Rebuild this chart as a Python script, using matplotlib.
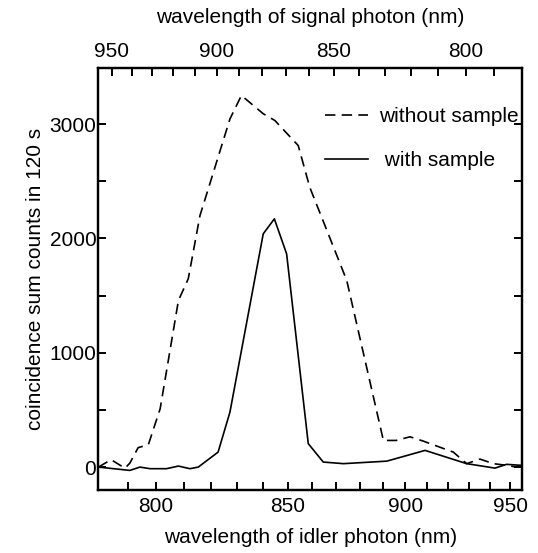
import numpy as np
import matplotlib
matplotlib.use('Agg')
import matplotlib.pyplot as plt
from matplotlib.ticker import FixedLocator, NullFormatter

plt.rcParams['font.family'] = ['Liberation Sans', 'DejaVu Sans']
plt.rcParams['lines.scale_dashes'] = False

PUMP = 429.7  # pump wavelength (nm), sets the signal axis on top

# coincidence counts without sample (dashed)
idler_without = [780, 784.3, 789.1, 790.8, 793.7, 797.3, 801.5, 808.1, 811.7, 816.0,
                 827.3, 831.7, 840.2, 844.8, 854.2, 858.9, 874.4, 890.3, 896.0,
                 902.2, 908.3, 922.3, 928.7, 935.1, 941.7, 948.3, 953.4, 956]
counts_without = [0, 65, -10, 35, 170, 196, 510, 1457, 1647, 2198,
                  3045, 3250, 3090, 3031, 2812, 2448, 1632, 233, 233,
                  265, 227, 131, 30, 70, 30, 15, 0, 0]

# coincidence counts with sample (solid)
idler_with = [780, 790.8, 794.3, 797.9, 803.8, 808.1, 812.3, 815.4, 822.8, 827.3,
              840.2, 844.6, 849.5, 858.3, 864.5, 873.0, 891.8, 909.1, 928.7,
              942.5, 948.3, 956]
counts_with = [0, -29, 0, -14, -14, 9, -14, 0, 131, 481,
               2040, 2171, 1865, 205, 44, 30, 52, 146, 30,
               -9, 24, 15]

idler_lim = (780, 956)
y_lim = (-200, 3490)
bottom_major = [800, 850, 900, 950]
bottom_minor = list(range(790, 951, 10))
top_major = [800, 850, 900, 950]
top_minor = list(range(790, 951, 10))
y_major = [0, 1000, 2000, 3000]
y_minor = [500, 1500, 2500]


def neg_recip(v):
    # -1/lambda: axis linear in photon frequency
    with np.errstate(divide='ignore'):
        return -1.0 / np.asarray(v, dtype=float)


def signal_of(idler):
    return 1.0 / (1.0 / PUMP - 1.0 / idler)


fig = plt.figure(figsize=(5.38, 5.53), dpi=100)
ax = fig.add_axes([0.183, 0.114, 0.787, 0.763])

ax.set_xscale('function', functions=(neg_recip, neg_recip))
ax.plot(idler_without, counts_without, color='black', lw=1.2,
        dashes=(7.5, 4.5), label='without sample')
ax.plot(idler_with, counts_with, color='black', lw=1.2, label=' with sample')
ax.set_xlim(*idler_lim)
ax.set_ylim(*y_lim)

ax.xaxis.set_major_locator(FixedLocator(bottom_major))
ax.xaxis.set_minor_locator(FixedLocator(bottom_minor))
ax.xaxis.set_minor_formatter(NullFormatter())
ax.set_xticklabels([str(v) for v in bottom_major])
ax.yaxis.set_major_locator(FixedLocator(y_major))
ax.yaxis.set_minor_locator(FixedLocator(y_minor))

ax.tick_params(which='both', direction='in', length=6, width=1.4,
               right=True, labelsize=15)
ax.tick_params(axis='x', which='both', pad=5)
ax.tick_params(axis='y', which='both', pad=1.5)
for s in ax.spines.values():
    s.set_linewidth(1.6)

ax.set_xlabel('wavelength of idler photon (nm)', fontsize=15, labelpad=9)
ax.set_ylabel('coincidence sum counts in 120 s', fontsize=15, labelpad=3)

# signal wavelength on top: same frequency axis, running the other way
ax2 = ax.twiny()
ax2.set_xscale('function', functions=(neg_recip, neg_recip))
ax2.set_xlim(signal_of(idler_lim[0]), signal_of(idler_lim[1]))
ax2.xaxis.set_major_locator(FixedLocator(top_major))
ax2.xaxis.set_minor_locator(FixedLocator(top_minor))
ax2.xaxis.set_minor_formatter(NullFormatter())
ax2.set_xticklabels([str(v) for v in top_major])
ax2.tick_params(which='both', direction='in', length=6, width=1.4,
                labelsize=15, pad=5)
for s in ax2.spines.values():
    s.set_linewidth(1.6)
ax2.set_xlabel('wavelength of signal photon (nm)', fontsize=15, labelpad=14)

ax.legend(loc='upper left', bbox_to_anchor=(0.535, 0.908), frameon=False,
          fontsize=15, handlelength=2.05, handletextpad=0.55,
          labelspacing=1.23, borderpad=0, borderaxespad=0)

fig.savefig('out.png', dpi=100)
